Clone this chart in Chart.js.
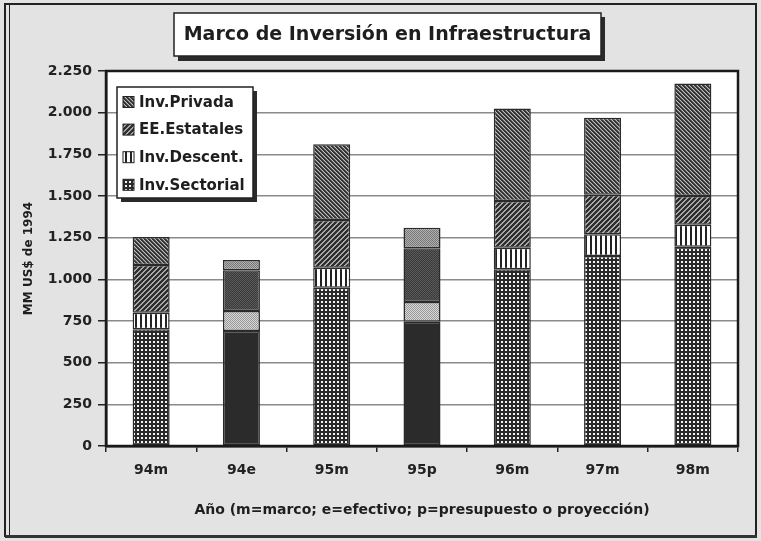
<!doctype html>
<html lang="es">
<head>
<meta charset="utf-8"/>
<title>Marco de Inversión en Infraestructura</title>
<script src="https://cdn.jsdelivr.net/npm/chart.js"></script>
<style>
*{box-sizing:border-box}
html,body{margin:0;padding:0;background:#e3e3e3}
.wrap{width:761px;height:541px}
</style>
</head>
<body>
<div class="wrap"><canvas id="chart" width="761" height="541"></canvas></div>
<script>
// datos (MM US$ de 1994)
const categories = ['94m','94e','95m','95p','96m','97m','98m'];
const sectorial  = [700, 690, 950, 745, 1060, 1140, 1195];
const descent    = [100, 120, 120, 119, 130, 130, 133];
const estatales  = [286, 244, 286, 322, 280, 238, 172];
const privada    = [168,  62, 454, 124, 555, 462, 675];
const yTicks     = [0, 250, 500, 750, 1000, 1250, 1500, 1750, 2000, 2250];
const legendNames = ['Inv.Privada','EE.Estatales','Inv.Descent.','Inv.Sectorial'];
const FONT = "'DejaVu Sans', sans-serif";

function makePattern(size, draw){
  const c = document.createElement('canvas');
  c.width = c.height = size;
  const g = c.getContext('2d');
  draw(g, size);
  return g.createPattern(c, 'repeat');
}
function px(g, x, y, col){ g.fillStyle = col; g.fillRect(x, y, 1, 1); }

// tramas
const pPrivada = makePattern(4, (g, s) => {
  g.fillStyle = '#333'; g.fillRect(0, 0, s, s);
  for (let i = 0; i < s; i++){ px(g, i, i, '#bdbdbd'); px(g, i, (i + 1) % s, '#686868'); }
});
const pEstatales = makePattern(5, (g, s) => {
  g.fillStyle = '#2e2e2e'; g.fillRect(0, 0, s, s);
  for (let i = 0; i < s; i++){ px(g, i, s - 1 - i, '#a8a8a8'); px(g, i, (s - i) % s, '#a8a8a8'); }
});
const pDescent = makePattern(5, (g, s) => {
  g.fillStyle = '#fff'; g.fillRect(0, 0, s, s);
  g.fillStyle = '#222'; g.fillRect(0, 0, 2, s);
});
const pSectorial = makePattern(4, (g, s) => {
  g.fillStyle = '#2a2a2a'; g.fillRect(0, 0, s, s);
  g.fillStyle = '#f4f4f4'; g.fillRect(1, 1, 2, 2);
});
function stipple(a, b){
  return makePattern(2, (g) => {
    g.fillStyle = a; g.fillRect(0, 0, 2, 2);
    px(g, 0, 0, b); px(g, 1, 1, b);
  });
}
const sSolid = '#2b2b2b';
const sLight = stipple('#d6d6d6', '#9a9a9a');
const sDark  = stipple('#3a3a3a', '#5a5a5a');
const sMid   = stipple('#b0b0b0', '#777');

// 94e y 95p usan tramas distintas
const special = i => categories[i] === '94e' || categories[i] === '95p';
const fills = (normal, alt) => categories.map((c, i) => special(i) ? alt : normal);

function fmt(n){ return String(n).replace(/\B(?=(\d{3})+(?!\d))/g, '.'); }

const frame = {
  id: 'frame',
  beforeDraw(chart){
    const {ctx, chartArea: a} = chart;
    ctx.save();
    ctx.fillStyle = '#e3e3e3';
    ctx.fillRect(0, 0, chart.width, chart.height);
    // borde exterior
    ctx.strokeStyle = '#222';
    ctx.lineWidth = 2;
    ctx.strokeRect(5, 4, 751, 532);
    ctx.lineWidth = 1;
    ctx.beginPath(); ctx.moveTo(9.5, 4); ctx.lineTo(9.5, 536); ctx.stroke();
    ctx.fillStyle = '#333';
    ctx.fillRect(5, 535, 752, 3);
    // area de trazado
    ctx.fillStyle = '#fff';
    ctx.fillRect(a.left, a.top, a.right - a.left, a.bottom - a.top);
    // caja del titulo
    ctx.fillStyle = '#2a2a2a';
    ctx.fillRect(178, 17, 427, 44);
    ctx.fillStyle = '#fff';
    ctx.fillRect(174, 13, 427, 43);
    ctx.strokeStyle = '#222';
    ctx.lineWidth = 1.5;
    ctx.strokeRect(174, 13, 427, 43);
    ctx.fillStyle = '#1e1e1e';
    ctx.font = 'bold 19px ' + FONT;
    ctx.textAlign = 'center';
    ctx.textBaseline = 'middle';
    ctx.fillText('Marco de Inversión en Infraestructura', 387.5, 35);
    ctx.restore();
  },
  afterDraw(chart){
    const {ctx, chartArea: a} = chart;
    ctx.save();
    ctx.strokeStyle = '#1a1a1a';
    ctx.lineWidth = 2.5;
    ctx.strokeRect(a.left, a.top, a.right - a.left, a.bottom - a.top);
    // leyenda
    const lx = 117, ly = 87, lw = 136, lh = 111;
    ctx.fillStyle = '#2a2a2a';
    ctx.fillRect(lx + 4, ly + 4, lw, lh);
    ctx.fillStyle = '#fff';
    ctx.fillRect(lx, ly, lw, lh);
    ctx.strokeStyle = '#222';
    ctx.lineWidth = 1.5;
    ctx.strokeRect(lx, ly, lw, lh);
    const ds = chart.data.datasets;
    ctx.font = 'bold 15px ' + FONT;
    ctx.textBaseline = 'middle';
    ctx.textAlign = 'left';
    legendNames.forEach((name, k) => {
      const y = 102 + k * 27.6;
      const d = ds.find(s => s.label === name);
      ctx.fillStyle = d.backgroundColor[0];
      ctx.fillRect(123, y - 5.5, 11, 11);
      ctx.strokeStyle = '#222';
      ctx.lineWidth = 1;
      ctx.strokeRect(123, y - 5.5, 11, 11);
      ctx.fillStyle = '#1e1e1e';
      ctx.fillText(name, 139, y + 1);
    });
    ctx.restore();
  }
};

const bar = (label, data, bg) => ({
  label, data, backgroundColor: bg,
  borderColor: '#2a2a2a', borderWidth: 1.5, borderSkipped: false,
  barPercentage: 0.41, categoryPercentage: 1
});

new Chart(document.getElementById('chart'), {
  type: 'bar',
  data: {
    labels: categories,
    datasets: [
      bar('Inv.Sectorial', sectorial, fills(pSectorial, sSolid)),
      bar('Inv.Descent.', descent, fills(pDescent, sLight)),
      bar('EE.Estatales', estatales, fills(pEstatales, sDark)),
      bar('Inv.Privada', privada, fills(pPrivada, sMid))
    ]
  },
  options: {
    responsive: false,
    devicePixelRatio: 1,
    animation: false,
    layout: { padding: { left: 0, right: 23, top: 71, bottom: 0 } },
    plugins: { legend: { display: false }, title: { display: false }, tooltip: { enabled: false } },
    scales: {
      x: {
        stacked: true,
        afterFit(s){ s.height = 95; },
        grid: { display: true, drawOnChartArea: false, drawTicks: true, tickLength: 6, color: '#222', lineWidth: 1.5, offset: true },
        border: { display: true, color: '#1a1a1a', width: 2.5 },
        ticks: { color: '#222', padding: 10, font: { family: FONT, weight: 'bold', size: 14 } },
        title: { display: true, text: 'Año (m=marco; e=efectivo; p=presupuesto o proyección)', color: '#1e1e1e',
                 padding: { top: 0, bottom: 22 }, font: { family: FONT, weight: 'bold', size: 14 } }
      },
      y: {
        stacked: true,
        min: 0, max: 2250,
        afterFit(s){ s.width = 106; },
        afterBuildTicks(s){ s.ticks = yTicks.map(v => ({ value: v })); },
        grid: { color: '#8a8a8a', lineWidth: 1.5, tickLength: 8, tickColor: '#222' },
        border: { display: true, color: '#1a1a1a', width: 2.5 },
        ticks: { color: '#222', padding: 6, callback: v => fmt(v), font: { family: FONT, weight: 'bold', size: 14 } },
        title: { display: true, text: 'MM US$ de 1994', color: '#1e1e1e',
                 padding: { top: 22, bottom: 0 }, font: { family: FONT, weight: 'bold', size: 12 } }
      }
    }
  },
  plugins: [frame]
});
</script>
</body>
</html>
